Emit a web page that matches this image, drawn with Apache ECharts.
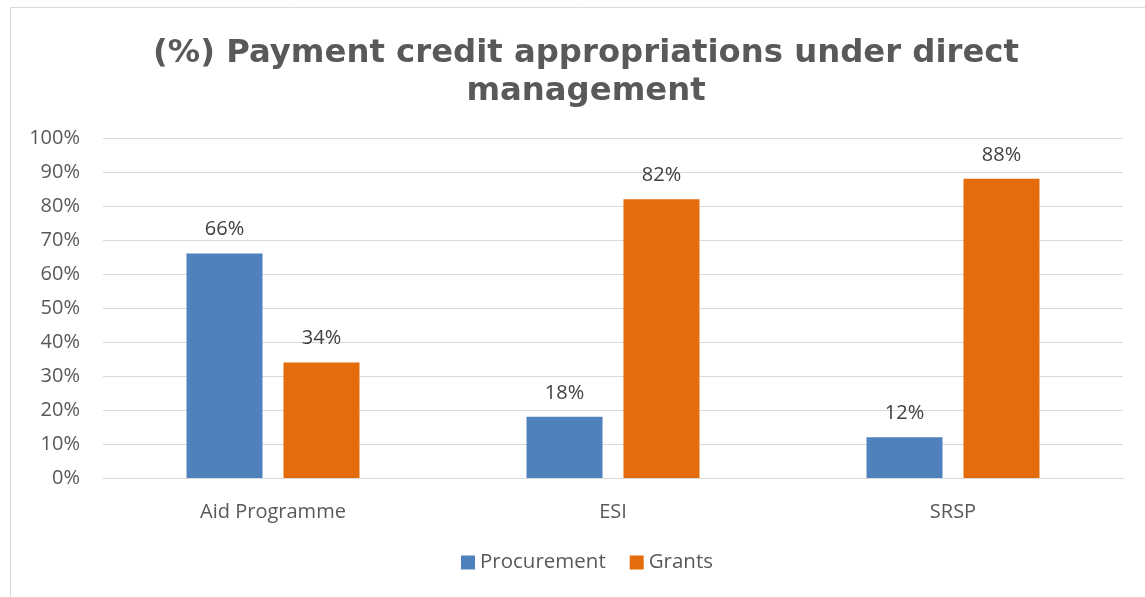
<!DOCTYPE html>
<html><head><meta charset="utf-8">
<script src="https://cdn.jsdelivr.net/npm/echarts@6/dist/echarts.min.js"></script>
<style>html,body{margin:0;padding:0;background:#fff}#c{width:1145px;height:597px}</style>
</head><body><div id="c"></div>
<script>
var categories = ["Aid Programme", "ESI", "SRSP"];
var procurement = [66, 18, 12];
var grants = [34, 82, 88];
var yTicks = [0, 10, 20, 30, 40, 50, 60, 70, 80, 90, 100];

var chart = echarts.init(document.getElementById('c'));
var lblFont = '"Open Sans", "Liberation Sans", sans-serif';
chart.setOption({
  animation: false,
  graphic: [{type: 'rect', shape: {x: 10.5, y: 7.5, width: 1150, height: 600}, style: {fill: 'none', stroke: '#d9d9d9', lineWidth: 1}, silent: true}],
  title: {
    text: '(%) Payment credit appropriations under direct\nmanagement',
    left: 581, top: 30, textAlign: 'center',
    textStyle: {fontFamily: '"DejaVu Sans", Verdana, sans-serif', fontWeight: 'bold', fontSize: 32.3, color: '#595959', lineHeight: 38}
  },
  legend: {
    bottom: 19, left: 456, itemWidth: 14, itemHeight: 14, itemGap: 24,
    icon: 'rect',
    textStyle: {fontFamily: lblFont, fontSize: 20.5, color: '#595959'},
    data: ['Procurement', 'Grants']
  },
  grid: {left: 103, right: 22, top: 138, bottom: 119},
  xAxis: {
    type: 'category', data: categories,
    axisLine: {lineStyle: {color: '#d9d9d9', width: 1}},
    axisTick: {show: false},
    axisLabel: {fontFamily: lblFont, fontSize: 20, color: '#595959', margin: 24}
  },
  yAxis: {
    type: 'value', min: 0, max: 100, interval: 10,
    axisLine: {show: false}, axisTick: {show: false},
    splitLine: {lineStyle: {color: '#d9d9d9', width: 1}},
    axisLabel: {fontFamily: lblFont, fontSize: 20, color: '#595959', margin: 23,
      formatter: function(v){ return yTicks.indexOf(v) >= 0 ? v + '%' : ''; }}
  },
  series: [
    {name: 'Procurement', type: 'bar', data: procurement, barWidth: 76, barGap: '27.6%',
     itemStyle: {color: '#4F81BD'},
     label: {show: true, position: 'top', distance: 14, formatter: '{c}%', fontFamily: lblFont, fontSize: 20, color: '#404040'}},
    {name: 'Grants', type: 'bar', data: grants, barWidth: 76,
     itemStyle: {color: '#E46C0A'},
     label: {show: true, position: 'top', distance: 14, formatter: '{c}%', fontFamily: lblFont, fontSize: 20, color: '#404040'}}
  ]
});
</script></body></html>
